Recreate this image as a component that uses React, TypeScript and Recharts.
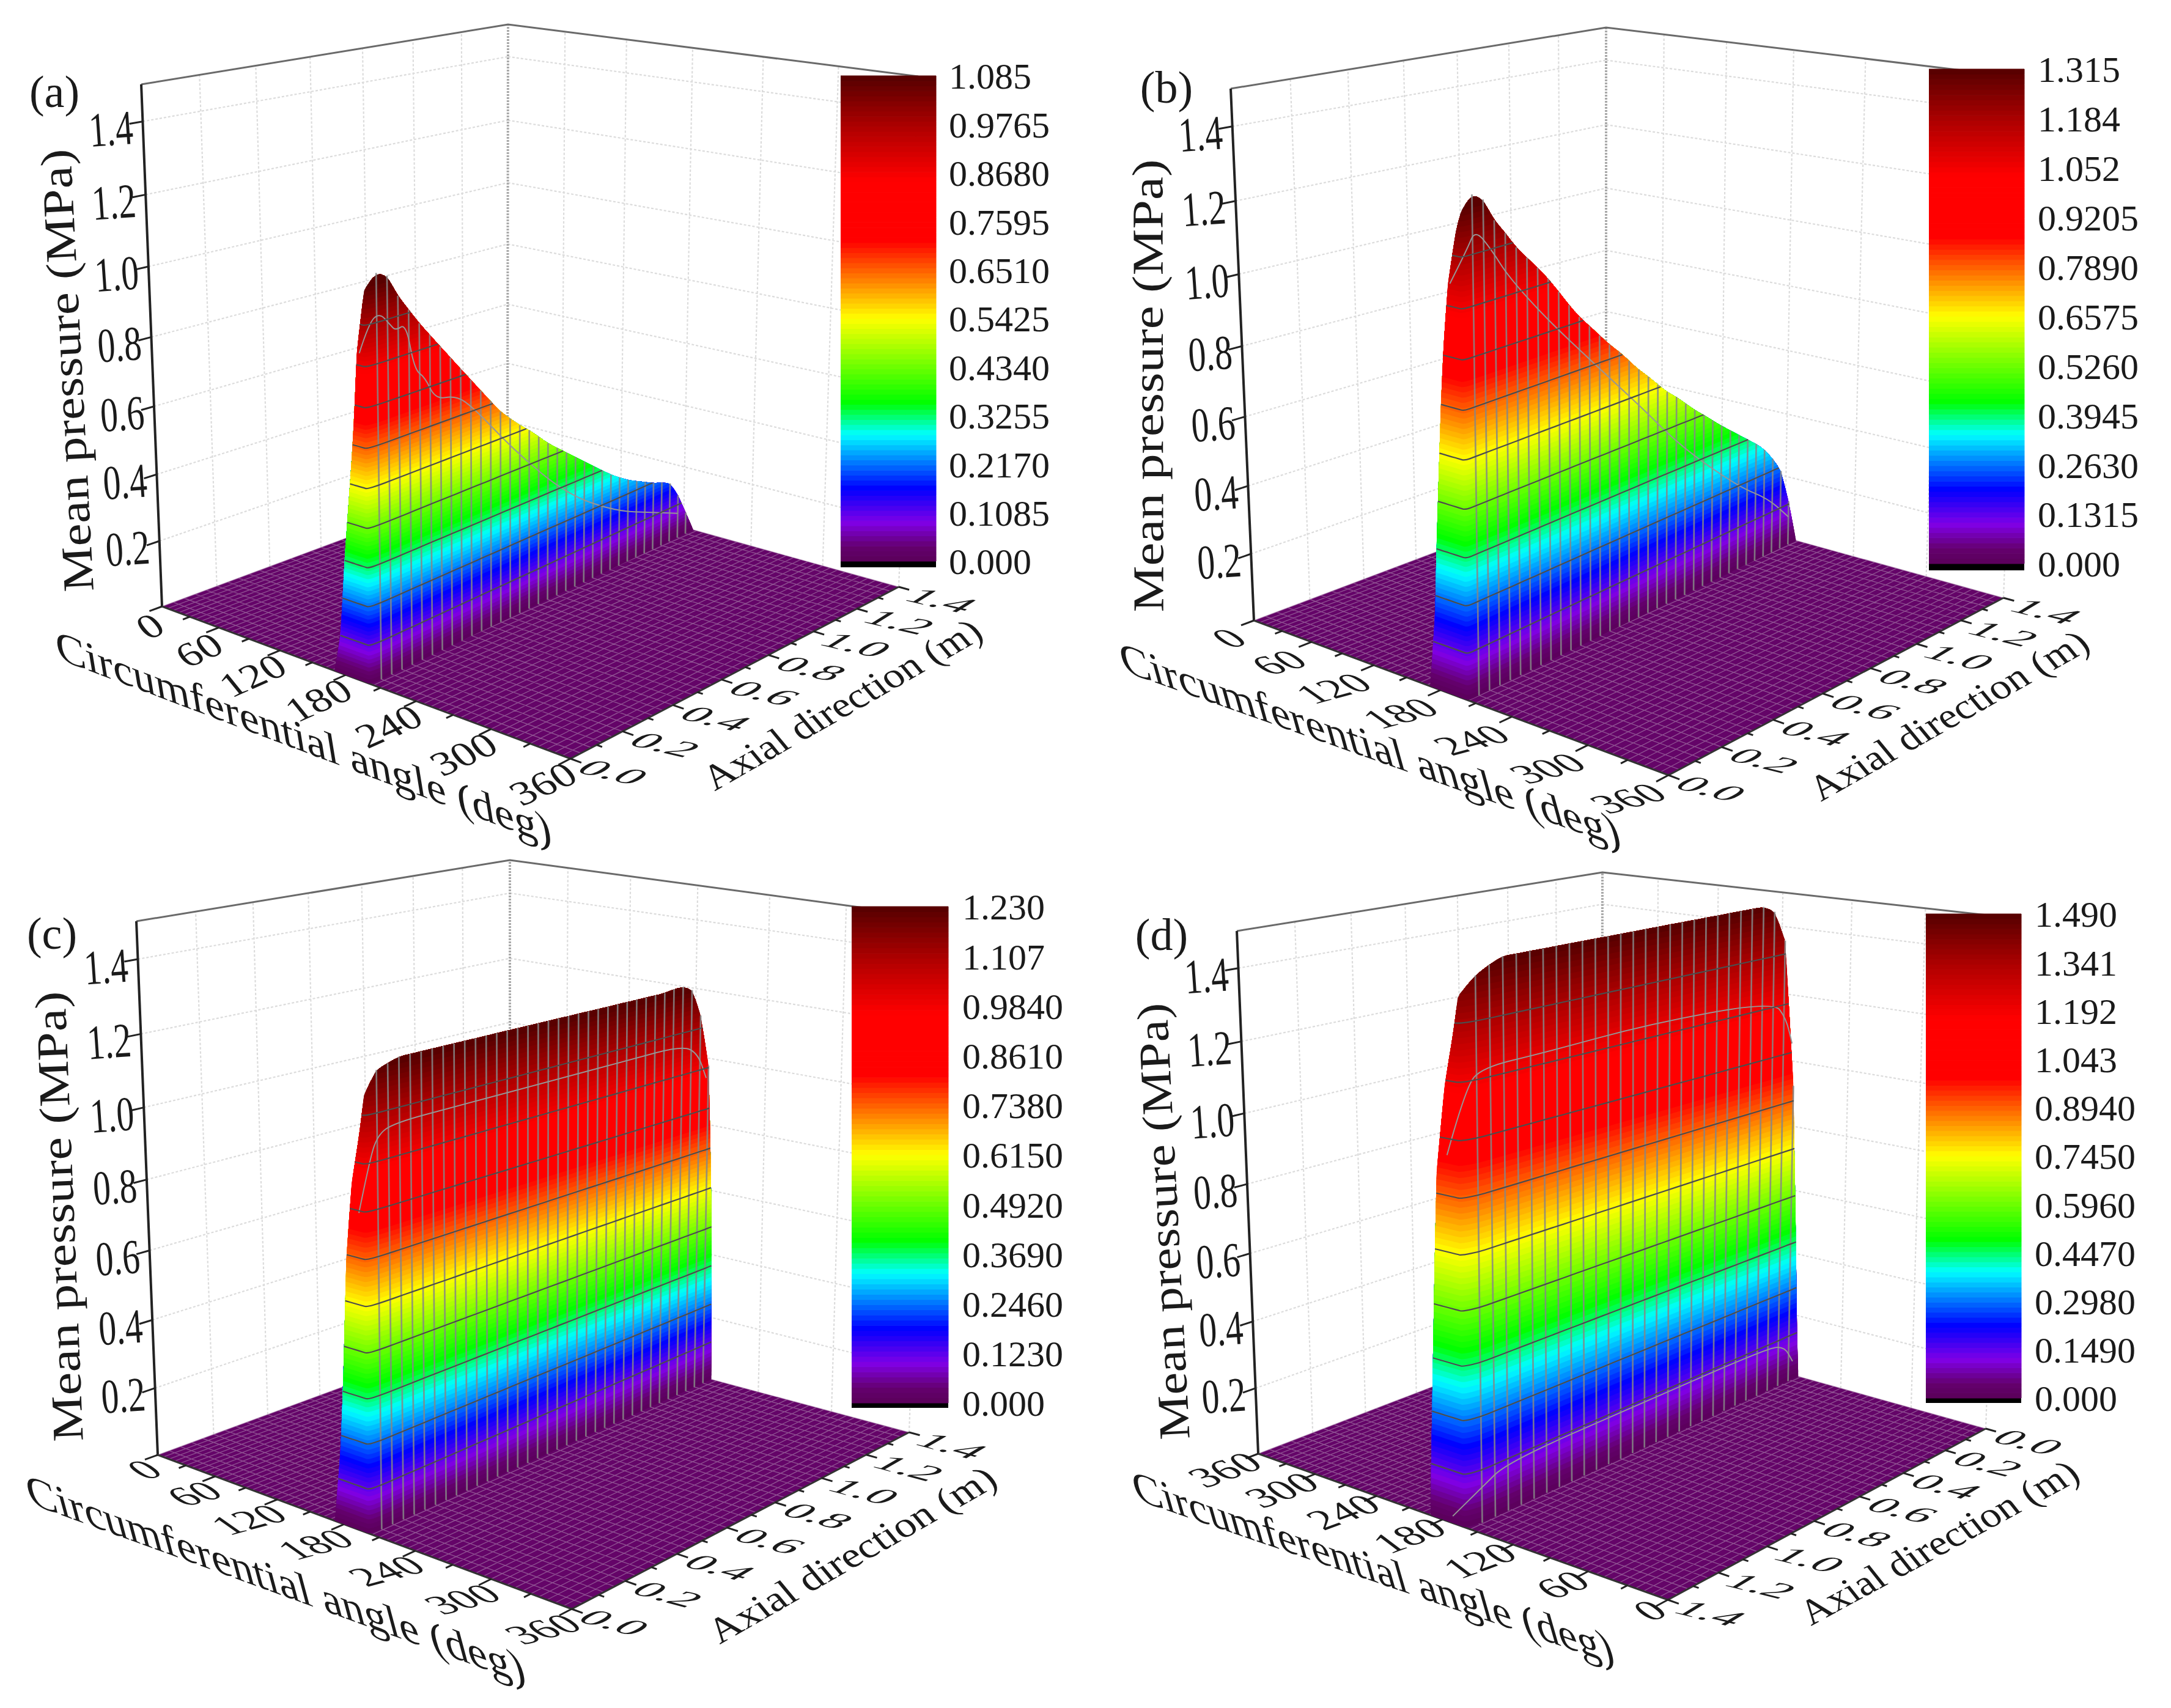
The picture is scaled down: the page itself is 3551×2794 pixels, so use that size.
import React from 'react';
import { ScatterChart, Scatter, XAxis, YAxis, BarChart, Bar, ReferenceArea } from 'recharts';

const W = 3551;
const H = 2794;
const FONT = '"Liberation Serif", "Times New Roman", serif';

// axis values
const pressureTicks = [0.2, 0.4, 0.6, 0.8, 1.0, 1.2, 1.4];
const angleTicks = [0, 60, 120, 180, 240, 300, 360];
const angleMinor = [30, 90, 150, 210, 270, 330];
const axialTicks = [0, 0.2, 0.4, 0.6, 0.8, 1.0, 1.2, 1.4];
const axialMinor = [0.1, 0.3, 0.5, 0.7, 0.9, 1.1, 1.3];
const floorAngles = [0, 6, 12, 18, 24, 30, 36, 42, 48, 54, 60, 66, 72, 78, 84, 90, 96, 102, 108, 114, 120, 126, 132, 138, 144, 150, 156, 162, 168, 174, 180, 186, 192, 198, 204, 210, 216, 222, 228, 234, 240, 246, 252, 258, 264, 270, 276, 282, 288, 294, 300, 306, 312, 318, 324, 330, 336, 342, 348, 354, 360];
const floorAxial = [0, 0.04, 0.08, 0.12, 0.16, 0.2, 0.24, 0.28, 0.32, 0.36, 0.4, 0.44, 0.48, 0.52, 0.56, 0.6, 0.64, 0.68, 0.72, 0.76, 0.8, 0.84, 0.88, 0.92, 0.96, 1.0, 1.04, 1.08, 1.12, 1.16, 1.2, 1.24, 1.28, 1.32, 1.36, 1.4];

const angleLabels = ['0', '60', '120', '180', '240', '300', '360'];
const axialLabels = ['0.0', '0.2', '0.4', '0.6', '0.8', '1.0', '1.2', '1.4'];
const angleLabelsD = ['360', '300', '240', '180', '120', '60', '0'];
const axialLabelsD = ['1.4', '1.2', '1.0', '0.8', '0.6', '0.4', '0.2', '0.0'];

// colour bar labels
const barLabelsA = ['1.085', '0.9765', '0.8680', '0.7595', '0.6510', '0.5425', '0.4340', '0.3255', '0.2170', '0.1085', '0.000'];
const barLabelsB = ['1.315', '1.184', '1.052', '0.9205', '0.7890', '0.6575', '0.5260', '0.3945', '0.2630', '0.1315', '0.000'];
const barLabelsC = ['1.230', '1.107', '0.9840', '0.8610', '0.7380', '0.6150', '0.4920', '0.3690', '0.2460', '0.1230', '0.000'];
const barLabelsD = ['1.490', '1.341', '1.192', '1.043', '0.8940', '0.7450', '0.5960', '0.4470', '0.2980', '0.1490', '0.000'];

// axial stations along the wall, as seen left to right
const axialStations = [0.04, 0.08, 0.12, 0.16, 0.2, 0.24, 0.28, 0.32, 0.36, 0.4, 0.44, 0.48, 0.52, 0.56, 0.6, 0.64, 0.68, 0.72, 0.76, 0.8, 0.84, 0.88, 0.92, 0.96, 1.0, 1.04, 1.08, 1.12, 1.16, 1.2, 1.24, 1.28, 1.32, 1.36, 1.4];
const axialStationsD = [0.05, 0.1, 0.15, 0.2, 0.25, 0.3, 0.35, 0.4, 0.45, 0.5, 0.55, 0.6, 0.65, 0.7, 0.75, 0.8, 0.85, 0.9, 0.95, 1.0, 1.05, 1.1, 1.15, 1.2, 1.25, 1.3, 1.35];

// ridge pressure (MPa) at those stations
const ridgeA = [1.105, 1.09, 1.03, 0.985, 0.94, 0.9, 0.86, 0.82, 0.78, 0.74, 0.7, 0.66, 0.62, 0.59, 0.56, 0.535, 0.505, 0.475, 0.45, 0.425, 0.4, 0.375, 0.35, 0.325, 0.3, 0.28, 0.26, 0.245, 0.23, 0.215, 0.205, 0.19, 0.14, 0.07, 0];
const ridgeB = [1.335, 1.315, 1.255, 1.215, 1.17, 1.135, 1.1, 1.063, 1.02, 0.975, 0.934, 0.9, 0.865, 0.83, 0.8, 0.765, 0.73, 0.7, 0.667, 0.635, 0.61, 0.58, 0.55, 0.525, 0.497, 0.47, 0.445, 0.42, 0.395, 0.37, 0.34, 0.3, 0.25, 0.14, 0];
const ridgeC = [1.215, 1.225, 1.235, 1.235, 1.235, 1.235, 1.235, 1.235, 1.235, 1.235, 1.235, 1.235, 1.235, 1.235, 1.235, 1.235, 1.235, 1.235, 1.235, 1.235, 1.235, 1.235, 1.235, 1.235, 1.235, 1.235, 1.235, 1.235, 1.235, 1.24, 1.24, 1.225, 1.145, 0.99];
const ridgeD = [1.455, 1.475, 1.49, 1.49, 1.49, 1.49, 1.49, 1.49, 1.49, 1.49, 1.49, 1.49, 1.49, 1.49, 1.49, 1.49, 1.49, 1.49, 1.49, 1.49, 1.49, 1.49, 1.49, 1.49, 1.47, 1.38, 0.94];

// left end of each wall: angle and pressure along the rounded flank
const flankAngleA = [170, 176, 181, 188, 191, 194, 198, 201];
const flankPressureA = [0, 0.11, 0.34, 0.6, 0.73, 0.9, 1.0, 1.07];
const flankAngleB = [171, 176.5, 179, 185, 188, 192.5, 199.5, 204];
const flankPressureB = [0, 0.205, 0.405, 0.795, 0.945, 1.11, 1.245, 1.3];
const flankAngleC = [172, 178, 181.5, 185.5, 191, 198, 202];
const flankPressureC = [0, 0.2, 0.41, 0.727, 0.93, 1.06, 1.16];
const flankAngleD = [169.5, 170.5, 174, 177, 180, 188, 196, 200];
const flankPressureD = [0, 0.12, 0.44, 0.71, 0.95, 1.18, 1.32, 1.41];

// right end of walls c and d
const tailAxialC = [1.375, 1.387, 1.395, 1.4];
const tailPressureC = [0.75, 0.51, 0.14, 0];
const tailAxialD = [1.375, 1.39, 1.4];
const tailPressureD = [0.465, 0.13, 0];

// thin grey curves showing through the walls
const ghostAxialA = [0.0, 0.01, 0.05, 0.09, 0.11, 0.15, 0.18, 0.22, 0.26, 0.34, 0.41, 0.58, 0.8, 1.02, 1.2, 1.32];
const ghostPressureA = [0.9, 0.98, 1.0, 0.96, 0.94, 0.95, 0.82, 0.79, 0.72, 0.71, 0.66, 0.49, 0.3, 0.18, 0.12, 0.08];
const ghostAxialB = [0.0, 0.02, 0.05, 0.11, 0.17, 0.31, 0.5, 0.69, 0.87, 1.12, 1.26, 1.36];
const ghostPressureB = [1.11, 1.2, 1.245, 1.18, 1.1, 0.96, 0.79, 0.62, 0.45, 0.26, 0.18, 0.09];
const ghostAxialC = [0.0, 0.01, 0.04, 0.1, 0.33, 0.67, 1.02, 1.24, 1.31, 1.35];
const ghostPressureC = [0.855, 0.985, 1.05, 1.07, 1.07, 1.07, 1.07, 1.07, 1.035, 0.955];
const ghostAxialD = [0.0, 0.01, 0.07, 0.3, 0.72, 1.25, 1.31, 1.34];
const ghostPressureD = [1.0, 1.18, 1.22, 1.22, 1.23, 1.21, 1.15, 1.07];
const ghostLowAxialD = [0.0, 0.05, 0.15, 0.7, 1.25, 1.33, 1.37];
const ghostLowPressureD = [0.02, 0.1, 0.14, 0.14, 0.14, 0.12, 0.06];

type Pt = { x: number; y: number };

// where the box corners land on the page for each panel, and other layout
const panels = [
  {
    name: '(a)', namePos: [89, 150],
    L: [265, 992], F: [933, 1241], R: [1470, 960], K: [830, 782],
    TL: [231, 138], TF: [940, 251], TR: [1502, 125], TK: [831, 40],
    barLabels: barLabelsA, bar: { left: 1375, right: 1531, top: 124, zero: 918, bottom: 928, margin: 15 },
    angleText: angleLabels, axialText: axialLabels,
    flankAngle: flankAngleA, flankPressure: flankPressureA,
    stations: axialStations, ridge: ridgeA, tailAxial: [], tailPressure: [],
    face: [202, 189],
    ghosts: [[ghostAxialA, ghostPressureA]],
    angleStyle: { dx: -45, dy: 41, rot: -24, skew: 15, size: 70, sy: 0.85 },
    axialStyle: { dx: 70, dy: 22, rot: 13, skew: -45, size: 80, sy: 0.5 },
    pTitle: { x: 110, y: 606, rot: -93, len: 725 },
    aTitle: { x: 496, y: 1207, rot: 20.7, len: 866, skew: 30 },
    zTitle: { x: 1377, y: 1152, rot: -29.7, len: 510 },
  },
  {
    name: '(b)', namePos: [1908, 143],
    L: [2051, 1015], F: [2729, 1268], R: [3277, 978], K: [2627, 798],
    TL: [2013, 145], TF: [2737, 278], TR: [3309, 127], TK: [2627, 45],
    barLabels: barLabelsB, bar: { left: 3155, right: 3311, top: 113, zero: 922, bottom: 933, margin: 16 },
    angleText: angleLabels, axialText: axialLabels,
    flankAngle: flankAngleB, flankPressure: flankPressureB,
    stations: axialStations, ridge: ridgeB, tailAxial: [], tailPressure: [],
    face: [204, 190],
    ghosts: [[ghostAxialB, ghostPressureB]],
    angleStyle: { dx: -66, dy: 38, rot: -15, skew: 40, size: 70, sy: 0.72 },
    axialStyle: { dx: 70, dy: 22, rot: 14, skew: -45, size: 80, sy: 0.5 },
    pTitle: { x: 1878, y: 631, rot: -90.1, len: 741 },
    aTitle: { x: 2240, y: 1218, rot: 19.5, len: 866, skew: 35 },
    zTitle: { x: 3187, y: 1170, rot: -29.5, len: 510 },
  },
  {
    name: '(c)', namePos: [85, 1527],
    L: [258, 2380], F: [935, 2632], R: [1487, 2343], K: [834, 2168],
    TL: [223, 1507], TF: [945, 1620], TR: [1517, 1499], TK: [834, 1407],
    barLabels: barLabelsC, bar: { left: 1393, right: 1551, top: 1483, zero: 2295, bottom: 2303, margin: 17 },
    angleText: angleLabels, axialText: axialLabels,
    flankAngle: flankAngleC, flankPressure: flankPressureC,
    stations: axialStations.slice(0, 34), ridge: ridgeC, tailAxial: tailAxialC, tailPressure: tailPressureC,
    face: [203, 199.5],
    ghosts: [[ghostAxialC, ghostPressureC]],
    angleStyle: { dx: -47, dy: 33, rot: -15, skew: 40, size: 70, sy: 0.72 },
    axialStyle: { dx: 70, dy: 22, rot: 15, skew: -45, size: 80, sy: 0.5 },
    pTitle: { x: 97, y: 1990, rot: -92.3, len: 737 },
    aTitle: { x: 450, y: 2583, rot: 20, len: 866, skew: 35 },
    zTitle: { x: 1393, y: 2543, rot: -29.8, len: 528 },
  },
  {
    name: '(d)', namePos: [1900, 1529],
    L: [2058, 2378], F: [2728, 2617], R: [3248, 2337], K: [2620, 2162],
    TL: [2023, 1523], TF: [2736, 1615], TR: [3277, 1500], TK: [2621, 1427],
    barLabels: barLabelsD, bar: { left: 3150, right: 3306, top: 1495, zero: 2287, bottom: 2295, margin: 16 },
    angleText: angleLabelsD, axialText: axialLabelsD,
    flankAngle: flankAngleD, flankPressure: flankPressureD,
    stations: axialStationsD, ridge: ridgeD, tailAxial: tailAxialD, tailPressure: tailPressureD,
    face: [203, 202],
    ghosts: [[ghostAxialD, ghostPressureD], [ghostLowAxialD, ghostLowPressureD]],
    angleStyle: { dx: -55, dy: 26, rot: -20, skew: 33, size: 70, sy: 0.76 },
    axialStyle: { dx: 70, dy: 22, rot: 14, skew: -45, size: 80, sy: 0.5 },
    pTitle: { x: 1903, y: 1998, rot: -93, len: 715 },
    aTitle: { x: 2245, y: 2564, rot: 19, len: 830, skew: 35 },
    zTitle: { x: 3171, y: 2523, rot: -28.5, len: 505 },
  },
];

const BANDS = 96;

const colourStops: [number, number, number, number][] = [
  [0, 90, 0, 90],
  [0.03, 100, 0, 110],
  [0.08, 128, 0, 230],
  [0.15, 0, 0, 255],
  [0.262, 0, 255, 255],
  [0.327, 0, 255, 0],
  [0.5, 255, 255, 0],
  [0.66, 255, 0, 0],
  [0.784, 255, 0, 0],
  [0.9, 170, 0, 0],
  [1, 85, 0, 0],
];

function colourAt(v: number) {
  let i = 0;
  while (i < colourStops.length - 2 && v > colourStops[i + 1][0]) i++;
  const a = colourStops[i];
  const b = colourStops[i + 1];
  const t = Math.min(1, Math.max(0, (v - a[0]) / (b[0] - a[0])));
  const c = [1, 2, 3].map((k) => Math.round(a[k] + (b[k] - a[k]) * t));
  return `rgb(${c[0]},${c[1]},${c[2]})`;
}

const mix = (a: number[], b: number[], t: number) => [a[0] + (b[0] - a[0]) * t, a[1] + (b[1] - a[1]) * t];

// box coordinates to page: angle 0..360, axial 0..1.4, pressure 0..1.5
function makeProject(p: any) {
  return (angle: number, axial: number, pressure: number): Pt => {
    const u = angle / 360;
    const v = axial / 1.4;
    const h = pressure / 1.5;
    const uw = u - 0.2 * u * (1 - u);
    const vw = v + 0.13 * v * (1 - v);
    const t = h * (1 - 0.07 * (1 - h));
    const base = mix(mix(p.L, p.F, uw), mix(p.K, p.R, uw), vw);
    const top = mix(mix(p.TL, p.TF, uw), mix(p.TK, p.TR, uw), vw);
    const q = mix(base, top, t);
    return { x: q[0], y: q[1] };
  };
}

const noDot = () => null;

const fmt = (q: Pt) => `${q.x.toFixed(1)} ${q.y.toFixed(1)}`;
const midOf = (a: Pt, b: Pt): Pt => ({ x: (a.x + b.x) / 2, y: (a.y + b.y) / 2 });

const toPath = (pts: Pt[]) => pts.map((q, i) => `${i ? 'L' : 'M'}${fmt(q)}`).join('');
const toPairs = (pts: Pt[]) => pts.map((q, i) => `${i % 2 ? 'L' : 'M'}${fmt(q)}`).join('');

// open curve through the midpoints, the readings act as control points
function toSmooth(pts: Pt[]) {
  if (pts.length < 3) return toPath(pts);
  let d = `M${fmt(pts[0])}`;
  for (let i = 1; i < pts.length - 1; i++) d += `Q${fmt(pts[i])} ${fmt(midOf(pts[i], pts[i + 1]))}`;
  return `${d}L${fmt(pts[pts.length - 1])}`;
}

const polyline = (stroke: string, width: number, extra: any = {}) => (props: any) => (
  <path d={toPath(props.points)} fill="none" stroke={stroke} strokeWidth={width} {...extra} />
);
const curve = (stroke: string, width: number, extra: any = {}) => (props: any) => (
  <path d={toSmooth(props.points)} fill="none" stroke={stroke} strokeWidth={width} {...extra} />
);
const segments = (stroke: string, width: number, extra: any = {}) => (props: any) => (
  <path d={toPairs(props.points)} fill="none" stroke={stroke} strokeWidth={width} {...extra} />
);
const polygon = (fill: string) => (props: any) => <path d={`${toPath(props.points)}Z`} fill={fill} stroke="none" />;

// the band polygon: lower edge out, ridge back, both smoothed
const smoothBand = (fill: string, lowerCount: number) => (props: any) => {
  const lower = props.points.slice(0, lowerCount);
  const upper = props.points.slice(lowerCount);
  const d = `${toSmooth(lower)}L${fmt(upper[0])}${toSmooth(upper).replace(/^M[^QL]*/, '')}Z`;
  return <path d={d} fill={fill} stroke="none" />;
};

const textShape = (props: any) => {
  const d = props.payload;
  const tf = `translate(${props.cx} ${props.cy}) rotate(${d.rot || 0}) skewX(${d.skew || 0}) scale(${d.sx || 1} ${d.sy || 1})`;
  return (
    <text
      transform={tf}
      textAnchor="middle"
      dominantBaseline="central"
      fontFamily={FONT}
      fontSize={d.size}
      fill="#1a1a1a"
      textLength={d.len}
      lengthAdjust={d.len ? 'spacingAndGlyphs' : undefined}
    >
      {d.label}
    </text>
  );
};

function series(key: string, data: Pt[], line: any) {
  return <Scatter key={key} data={data} line={line} shape={noDot} isAnimationActive={false} />;
}

function panelSeries(p: any, idx: number) {
  const project = makeProject(p);
  const pmax = parseFloat(p.barLabels[0]);
  const faceAngle = (z: number) => p.face[0] + ((p.face[1] - p.face[0]) * z) / 1.4;
  const out: any[] = [];
  const k = `p${idx}`;

  // wall grid
  const wallLines: Pt[] = [];
  pressureTicks.forEach((v) => {
    wallLines.push(project(0, 0, v), project(0, 1.4, v), project(0, 1.4, v), project(360, 1.4, v));
  });
  axialTicks.slice(1, 7).forEach((z) => wallLines.push(project(0, z, 0), project(0, z, 1.5)));
  angleTicks.slice(1).forEach((a) => wallLines.push(project(a, 1.4, 0), project(a, 1.4, 1.5)));
  out.push(series(`${k}-wall`, wallLines, segments('#dcdcdc', 2.2, { strokeDasharray: '4 3' })));
  out.push(
    series(`${k}-backedge`, [project(0, 1.4, 0), project(0, 1.4, 1.5)], polyline('#aaaaaa', 4, { strokeDasharray: '3 2' })),
  );
  out.push(
    series(`${k}-topedge`, [project(0, 0, 1.5), project(0, 1.4, 1.5), project(360, 1.4, 1.5)], polyline('#6a6a6a', 3)),
  );
  out.push(series(`${k}-paxis`, [project(0, 0, 0), project(0, 0, 1.5)], polyline('#222222', 4)));

  // floor
  out.push(
    series(
      `${k}-floor`,
      [project(0, 0, 0), project(360, 0, 0), project(360, 1.4, 0), project(0, 1.4, 0)],
      polygon('#640468'),
    ),
  );
  const mesh: Pt[] = [];
  floorAngles.forEach((a) => mesh.push(project(a, 0, 0), project(a, 1.4, 0)));
  floorAxial.forEach((z) => mesh.push(project(0, z, 0), project(360, z, 0)));
  out.push(series(`${k}-floormesh`, mesh, segments('#b79ab9', 1.4, { strokeOpacity: 0.5 })));

  // axis edges and tick marks
  out.push(
    series(`${k}-edges`, [project(0, 0, 0), project(360, 0, 0), project(360, 1.4, 0)], polyline('#333333', 3)),
  );
  const ticks: Pt[] = [];
  pressureTicks.forEach((v) => ticks.push(project(0, 0, v), project(0, -0.045, v)));
  angleTicks.forEach((a) => ticks.push(project(a, 0, 0), project(a, -0.045, 0)));
  angleMinor.forEach((a) => ticks.push(project(a, 0, 0), project(a, -0.025, 0)));
  axialTicks.forEach((z) => ticks.push(project(360, z, 0), project(368, z, 0)));
  axialMinor.forEach((z) => ticks.push(project(360, z, 0), project(364, z, 0)));
  out.push(series(`${k}-ticks`, ticks, segments('#222222', 3)));

  // the wall: one column per reading along the surface
  const cols: any[] = [];
  p.flankAngle.forEach((a: number, i: number) => cols.push({ a, z: 0, p: p.flankPressure[i], mesh: false }));
  p.stations.forEach((z: number, i: number) => cols.push({ a: faceAngle(z), z, p: p.ridge[i], mesh: true }));
  p.tailAxial.forEach((z: number, i: number) => cols.push({ a: p.face[1], z, p: p.tailPressure[i], mesh: false }));

  // where the surface crosses a pressure level, between two neighbouring columns
  const crossing = (c0: any, c1: any, level: number) => {
    const t = (level - c0.p) / (c1.p - c0.p);
    return { a: c0.a + (c1.a - c0.a) * t, z: c0.z + (c1.z - c0.z) * t, p: level };
  };
  const levelRun = (level: number) => {
    let s = -1;
    let e = -1;
    cols.forEach((c, i) => {
      if (c.p > level) {
        if (s < 0) s = i;
        e = i;
      }
    });
    if (s < 0) return [];
    const run = cols.slice(s, e + 1);
    const first = s > 0 ? crossing(cols[s - 1], cols[s], level) : { ...cols[s], p: level };
    const last = e < cols.length - 1 ? crossing(cols[e + 1], cols[e], level) : { ...cols[e], p: level };
    return [first, ...run, last];
  };

  // painted bottom to top, each band runs up to the ridge so no seams show
  for (let b = 0; b < BANDS; b++) {
    const lo = (pmax * b) / BANDS;
    const run = levelRun(lo);
    if (!run.length) continue;
    const lower = run.map((c) => project(c.a, c.z, Math.min(lo, c.p)));
    const upper = run.map((c) => project(c.a, c.z, c.p)).reverse();
    out.push(series(`${k}-band${b}`, [...lower, ...upper], smoothBand(colourAt((b + 0.5) / BANDS), lower.length)));
  }

  const meshLines: Pt[] = [];
  cols.filter((c) => c.mesh).forEach((c) => meshLines.push(project(c.a, c.z, 0), project(c.a, c.z, c.p)));
  out.push(series(`${k}-wallmesh`, meshLines, segments('#868686', 2.7, { strokeOpacity: 0.85 })));

  p.ghosts.forEach((g: number[][], gi: number) => {
    const pts = g[0].map((z, i) => project(z === 0 ? p.flankAngle[2] + 15 : faceAngle(z), z, g[1][i]));
    out.push(series(`${k}-ghost${gi}`, pts, curve('#969696', 2)));
  });

  p.barLabels.slice(1, -1).forEach((lab: string, i: number) => {
    const level = parseFloat(lab);
    const pts = levelRun(level).map((c) => project(c.a, c.z, Math.min(level, c.p)));
    out.push(series(`${k}-contour${i}`, pts, curve('#4d4d4d', 2.2)));
  });

  // text
  const texts: any[] = [];
  pressureTicks.forEach((v) => {
    const q = project(0, 0, v);
    texts.push({ x: q.x - 52, y: q.y + 12, label: v.toFixed(1), size: 80, sx: 0.72, rot: -4 });
  });
  angleTicks.forEach((a, i) => {
    const q = project(a, 0, 0);
    const s = p.angleStyle;
    const lab = p.angleText[i];
    const lack = 3 - lab.length;
    texts.push({ x: q.x + s.dx + lack * 12.5, y: q.y + s.dy - lack * 4.5, label: lab, size: s.size, rot: s.rot, skew: s.skew, sy: s.sy });
  });
  axialTicks.forEach((z, i) => {
    const q = project(360, z, 0);
    const s = p.axialStyle;
    texts.push({ x: q.x + s.dx, y: q.y + s.dy, label: p.axialText[i], size: s.size, rot: s.rot, skew: s.skew, sy: s.sy });
  });
  texts.push({ x: p.namePos[0], y: p.namePos[1], label: p.name, size: 74 });
  texts.push({ x: p.pTitle.x, y: p.pTitle.y, label: 'Mean pressure (MPa)', size: 72, rot: p.pTitle.rot, len: p.pTitle.len });
  texts.push({ x: p.aTitle.x, y: p.aTitle.y, label: 'Circumferential angle (deg)', size: 74, rot: p.aTitle.rot, skew: p.aTitle.skew, sy: 0.85, len: p.aTitle.len });
  texts.push({ x: p.zTitle.x, y: p.zTitle.y, label: 'Axial direction (m)', size: 68, rot: p.zTitle.rot, skew: 10, sy: 0.9, len: p.zTitle.len });
  out.push(<Scatter key={`${k}-text`} data={texts} shape={textShape} isAnimationActive={false} />);

  return out;
}

function ColourBar({ panel }: { panel: any }) {
  const { bar, barLabels } = panel;
  const pmax = parseFloat(barLabels[0]);
  const below = (pmax * (bar.bottom - bar.zero)) / (bar.zero - bar.top);
  const row: Record<string, number> = { name: 0 } as any;
  for (let i = 0; i < BANDS; i++) row[`b${i}`] = pmax / BANDS;
  const pad = 40;
  const axisWidth = 200;
  const barWidth = bar.right - bar.left;
  return (
    <div style={{ position: 'absolute', left: bar.left, top: bar.top - pad }}>
      <BarChart
        width={barWidth + axisWidth}
        height={bar.bottom - bar.top + pad * 2}
        data={[row]}
        barCategoryGap={0}
        margin={{ top: pad, bottom: pad, left: 0, right: 0 }}
      >
        <XAxis dataKey="name" hide />
        <YAxis
          orientation="right"
          type="number"
          width={axisWidth}
          domain={[-below, pmax]}
          ticks={barLabels.map((s: string) => parseFloat(s))}
          interval={0}
          axisLine={false}
          tickLine={false}
          tickMargin={bar.margin}
          tickFormatter={(_: number, i: number) => barLabels[i]}
          tick={{ fontFamily: FONT, fontSize: 60, fill: '#1a1a1a' }}
        />
        {Array.from({ length: BANDS }, (_, i) => (
          <Bar
            key={i}
            dataKey={`b${i}`}
            stackId="cb"
            fill={colourAt((i + 0.5) / BANDS)}
            stroke={colourAt((i + 0.5) / BANDS)}
            strokeWidth={1}
            isAnimationActive={false}
          />
        ))}
        <ReferenceArea y1={-below} y2={0} fill="#000000" fillOpacity={1} stroke="none" />
      </BarChart>
    </div>
  );
}

export default function App() {
  return (
    <div style={{ position: 'absolute', left: 0, top: 0, width: W, height: H, background: '#ffffff' }}>
      <div style={{ position: 'absolute', left: 0, top: 0 }}>
        <ScatterChart width={W} height={H} margin={{ top: 0, right: 0, bottom: 0, left: 0 }}>
          <XAxis type="number" dataKey="x" domain={[0, W]} hide />
          <YAxis type="number" dataKey="y" domain={[0, H]} reversed hide />
          {panels.map((p, i) => panelSeries(p, i))}
        </ScatterChart>
      </div>
      {panels.map((p) => (
        <ColourBar key={p.name} panel={p} />
      ))}
    </div>
  );
}
